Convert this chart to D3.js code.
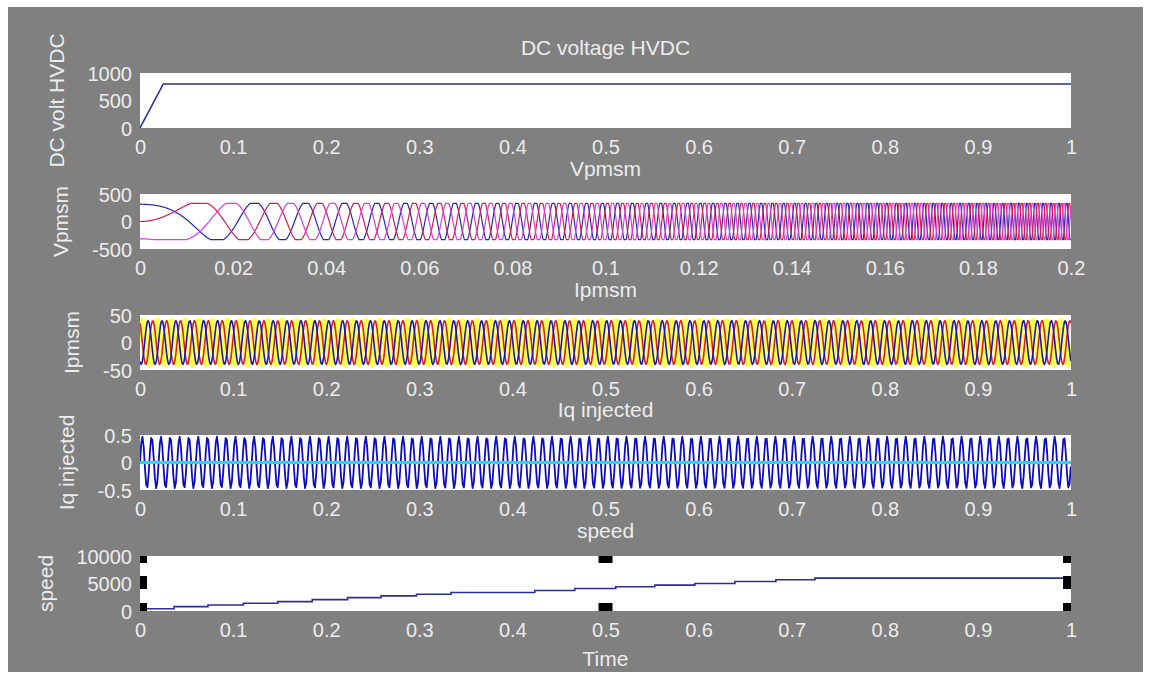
<!DOCTYPE html>
<html>
<head>
<meta charset="utf-8">
<script src="https://cdn.jsdelivr.net/npm/d3@7"></script>
<style>
  html, body { margin: 0; padding: 0; background: #ffffff; }
  svg { display: block; }
  text { font-family: "Liberation Sans", Arial, sans-serif; fill: #ececec; }
</style>
</head>
<body>
<svg id="chart" width="1151" height="675"></svg>
<script>
// ---------------- data ----------------
// subplot 1: DC voltage HVDC
const dcTime = [0, 0.025, 1];
const dcVolt = [0, 800, 800];
const dcXTicks = [0, 0.1, 0.2, 0.3, 0.4, 0.5, 0.6, 0.7, 0.8, 0.9, 1];
const dcYTicks = [0, 500, 1000];

// subplot 2: Vpmsm (three trapezoidal phases, accelerating: phase angle = rate * t^2)
const vpmsmAmplitude = [330];
const vpmsmChirpRate = [9500];           // rad/s^2 read from successive peak times
const vpmsmClipGain = [1.1];
const vpmsmPhaseDeg = [30, -90, 150];    // blue, red, magenta
const vpmsmXTicks = [0, 0.02, 0.04, 0.06, 0.08, 0.1, 0.12, 0.14, 0.16, 0.18, 0.2];
const vpmsmYTicks = [-500, 0, 500];

// subplot 3: Ipmsm (three phases)
const ipmsmAmplitude = [40];
const ipmsmFrequency = [67];
const ipmsmPhaseDeg = [0, 120, 240];     // yellow, red, blue
const ipmsmSampleStep = [0.0011];
const ipmsmYTicks = [-50, 0, 50];

// subplot 4: Iq injected
const iqAmplitude = [0.47];
const iqFrequency = [100];
const iqSampleStep = [0.001333];
const iqRefTime = [0, 1];
const iqRefValue = [0, 0];
const iqYTicks = [-0.5, 0, 0.5];

// subplot 5: speed (staircase)
const speedStepTimes = [0, 0.0366, 0.073, 0.111, 0.148, 0.185, 0.223, 0.259, 0.297, 0.334,
                        0.424, 0.467, 0.511, 0.553, 0.596, 0.639, 0.683, 0.725, 1];
const speedLevels = [420, 790, 1100, 1400, 1700, 2070, 2440, 2750, 3050, 3360,
                     3720, 4090, 4400, 4700, 5000, 5370, 5680, 5980, 5980];
const speedYTicks = [0, 5000, 10000];
const speedHandleX = [0, 0.5, 1];

const titles = ["DC voltage HVDC", "Vpmsm", "Ipmsm", "Iq injected", "speed"];
const yLabels = ["DC volt HVDC", "Vpmsm", "Ipmsm", "Iq injected", "speed"];

// ---------------- layout ----------------
const plotLeft = 140, plotRight = 1071, plotH = 55;
const plotTops = [73, 194, 315, 435, 556];

const svg = d3.select("#chart");
svg.append("rect").attr("x", 8).attr("y", 7).attr("width", 1135).attr("height", 665).attr("fill", "#808080");

const fmt = v => (+v.toFixed(4)).toString();

function makePanel(i, xDomain, xTicks, yDomain, yTicks) {
  const top = plotTops[i], bottom = top + plotH;
  const x = d3.scaleLinear().domain(xDomain).range([plotLeft, plotRight]);
  const y = d3.scaleLinear().domain(yDomain).range([bottom, top]);
  const g = svg.append("g");
  g.append("rect").attr("x", plotLeft).attr("y", top)
    .attr("width", plotRight - plotLeft).attr("height", plotH).attr("fill", "#ffffff");
  const clipId = "clip" + i;
  svg.append("clipPath").attr("id", clipId).append("rect")
    .attr("x", plotLeft).attr("y", top - 1).attr("width", plotRight - plotLeft).attr("height", plotH + 2);
  const plot = g.append("g").attr("clip-path", `url(#${clipId})`);

  const xa = g.append("g").attr("transform", `translate(0,${bottom})`)
    .call(d3.axisBottom(x).tickValues(xTicks).tickSize(0).tickFormat(fmt));
  xa.select(".domain").remove();
  xa.selectAll("text").attr("y", 26).attr("dy", null)
    .style("font-size", "20px").style("fill", "#ececec")
    .style("font-family", '"Liberation Sans", Arial, sans-serif');

  const ya = g.append("g").attr("transform", `translate(${plotLeft},0)`)
    .call(d3.axisLeft(y).tickValues(yTicks).tickSize(0).tickFormat(fmt));
  ya.select(".domain").remove();
  ya.selectAll("text").attr("x", -8).attr("dy", "0.35em")
    .style("font-size", "20px").style("fill", "#ececec")
    .style("font-family", '"Liberation Sans", Arial, sans-serif');
  let maxW = 0;
  ya.selectAll("text").each(function () { maxW = Math.max(maxW, this.getComputedTextLength()); });

  g.append("text").attr("x", (plotLeft + plotRight) / 2).attr("y", top - 18)
    .attr("text-anchor", "middle").style("font-size", "21px").text(titles[i]);

  const cx = plotLeft - 8 - maxW - 31;
  const cy = top + plotH / 2;
  g.append("text").attr("transform", `translate(${cx},${cy}) rotate(-90)`)
    .attr("text-anchor", "middle").attr("dy", "0.35em")
    .style("font-size", "21px").text(yLabels[i]);

  return { x, y, plot, g, top, bottom };
}

function drawLine(p, pts, color, width) {
  p.plot.append("path").datum(pts)
    .attr("fill", "none").attr("stroke", color).attr("stroke-width", width)
    .attr("stroke-linejoin", "round")
    .attr("d", d3.line().x(d => p.x(d[0])).y(d => p.y(d[1])));
}

// ---- panel 1: DC voltage
{
  const p = makePanel(0, [0, 1], dcXTicks, [0, 1000], dcYTicks);
  drawLine(p, dcTime.map((t, k) => [t, dcVolt[k]]), "#2b2b9c", 1.6);
}

// ---- panel 2: Vpmsm
{
  const p = makePanel(1, [0, 0.2], vpmsmXTicks, [-500, 500], vpmsmYTicks);
  const colors = ["#2626b4", "#d81c4c", "#dc3cdc"];
  const ts = d3.range(0, 0.2 + 1e-9, 4e-5);
  vpmsmPhaseDeg.forEach((ph, k) => {
    const off = ph * Math.PI / 180;
    const pts = ts.map(t => {
      const v = vpmsmClipGain[0] * Math.cos(vpmsmChirpRate[0] * t * t + off);
      return [t, vpmsmAmplitude[0] * Math.max(-1, Math.min(1, v))];
    });
    drawLine(p, pts, colors[k], 1.2);
  });
}

// ---- panel 3: Ipmsm
{
  const p = makePanel(2, [0, 1], dcXTicks, [-50, 50], ipmsmYTicks);
  const colors = ["#ffff50", "#d82020", "#1a1aa8"];
  const widths = [5.5, 1.6, 1.6];
  const ts = d3.range(0, 1 + 1e-9, ipmsmSampleStep[0]);
  ipmsmPhaseDeg.forEach((ph, k) => {
    const off = ph * Math.PI / 180;
    const pts = ts.map(t => [t, ipmsmAmplitude[0] * Math.sin(2 * Math.PI * ipmsmFrequency[0] * t + off)]);
    drawLine(p, pts, colors[k], widths[k]);
  });
}

// ---- panel 4: Iq injected
{
  const p = makePanel(3, [0, 1], dcXTicks, [-0.5, 0.5], iqYTicks);
  const ts = d3.range(0, 1 + 1e-9, iqSampleStep[0]);
  const pts = ts.map(t => [t, iqAmplitude[0] * Math.sin(2 * Math.PI * iqFrequency[0] * t)]);
  drawLine(p, pts, "#0c0cc0", 1.8);
  drawLine(p, iqRefTime.map((t, k) => [t, iqRefValue[k]]), "#12e2f0", 3);
}

// ---- panel 5: speed
{
  const p = makePanel(4, [0, 1], dcXTicks, [0, 10000], speedYTicks);
  p.plot.append("path").datum(speedStepTimes.map((t, k) => [t, speedLevels[k]]))
    .attr("fill", "none").attr("stroke", "#2d2d96").attr("stroke-width", 1.6)
    .attr("d", d3.line().curve(d3.curveStepAfter).x(d => p.x(d[0])).y(d => p.y(d[1])));

  p.g.append("text").attr("x", (plotLeft + plotRight) / 2).attr("y", p.bottom + 55)
    .attr("text-anchor", "middle").style("font-size", "21px").text("Time");

  speedHandleX.forEach(hx => {
    const cxp = p.x(hx);
    let x0, w;
    if (hx === 0) { x0 = cxp; w = 7; }
    else if (hx === 1) { x0 = cxp - 8; w = 8; }
    else { x0 = cxp - 7; w = 14; }
    p.g.append("rect").attr("x", x0).attr("y", p.top).attr("width", w).attr("height", 7).attr("fill", "#000");
    p.g.append("rect").attr("x", x0).attr("y", p.bottom - 8).attr("width", w).attr("height", 8).attr("fill", "#000");
    if (hx !== 0.5) {
      p.g.append("rect").attr("x", x0).attr("y", p.top + 20).attr("width", w).attr("height", 13).attr("fill", "#000");
    }
  });
}
</script>
</body>
</html>
